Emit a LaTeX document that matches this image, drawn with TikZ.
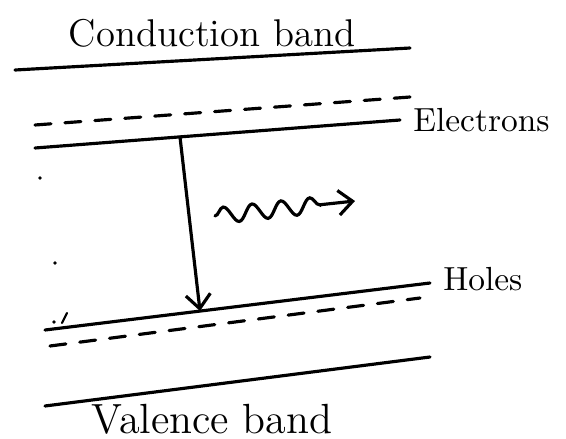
\documentclass[tikz,border=0pt]{standalone}
\usetikzlibrary{arrows.meta,decorations.pathmorphing}

\begin{document}
\begin{tikzpicture}[x=0.01cm, y=-0.01cm, >={Straight Barb[length=4pt,width=7pt]}, line width=0.9pt, line cap=round]
    \useasboundingbox (0,0) rectangle (566,439);

    % band edges and quasi-Fermi levels
    \coordinate (cbL) at (15,70);   \coordinate (cbR) at (410,48);
    \coordinate (efnL) at (35,125); \coordinate (efnR) at (410,97);
    \coordinate (elL) at (35,148);  \coordinate (elR) at (400,120);
    \coordinate (hlL) at (45,330);  \coordinate (hlR) at (430,283);
    \coordinate (efpL) at (50,346); \coordinate (efpR) at (420,298);
    \coordinate (vbL) at (45,406);  \coordinate (vbR) at (430,357);

    \node (cb) at (212,33) {\fontsize{11}{13}\selectfont Conduction band};
    \draw (cbL) -- (cbR);

    \draw[dash pattern=on 0.16cm off 0.14cm] (efnL) -- (efnR);
    \draw (elL) -- (elR) node[right] (el) {\fontsize{9.5}{11}\selectfont Electrons};

    \draw (hlL) -- (hlR) node[right, yshift=1pt] (hl) {\fontsize{9.5}{11}\selectfont Holes};
    \draw[dash pattern=on 0.16cm off 0.14cm] (efpL) -- (efpR);

    \draw (vbL) -- (vbR);
    \node (vb) at (212,419) {\fontsize{12}{14}\selectfont Valence band};

    % recombination and emitted photon
    \coordinate (up) at (180,137);
    \coordinate (down) at (200,311);
    \draw[->] (up) -- (down);

    \coordinate (phA) at (215,216);
    \coordinate (phB) at (355,201);
    \draw[->, decorate, decoration={snake, segment length=0.29cm, amplitude=0.08cm, post length=0.25cm}] (phA) -- (phB);

    % stray marks
    \fill (40,178) circle (1.8);
    \fill (55,263) circle (1.8);
    \fill (54,322) circle (1.8);
    \draw[line width=0.6pt] (62,323) -- (67,313);
\end{tikzpicture}
\end{document}
